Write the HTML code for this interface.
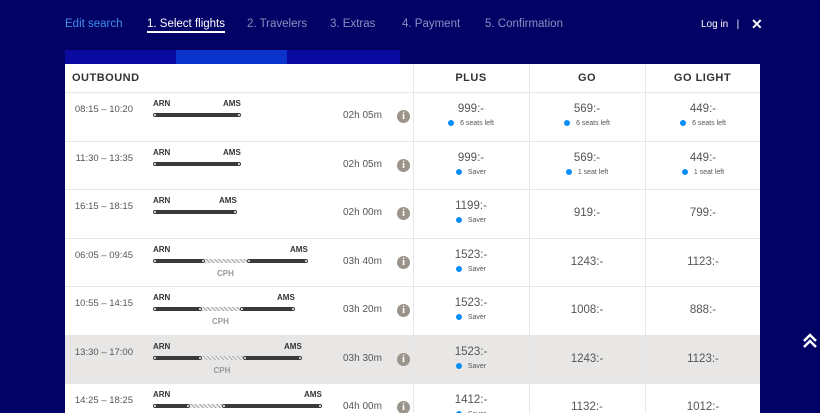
<!DOCTYPE html>
<html><head><meta charset="utf-8"><style>
body{margin:0;width:820px;height:413px;overflow:hidden;background:#020266;font-family:"Liberation Sans",sans-serif;position:relative}
.nav{position:absolute;top:18px;font-size:11.5px;color:#8a8fc0}
.card{position:absolute;left:65px;top:64px;width:695px;height:349px;background:#fff;overflow:hidden}
.row{position:absolute;left:0;width:695px;border-top:1px solid #e6e6e6}
.col{position:absolute;top:0;bottom:0;border-left:1px solid #e6e6e6;z-index:2}
.hd{position:absolute;font-weight:bold;font-size:11px;color:#333;letter-spacing:.5px}
.time{position:absolute;right:627px;white-space:nowrap;text-align:right;font-size:9.5px;color:#555}
.ap{position:absolute;font-size:8px;font-weight:bold;color:#333}
.seg{position:absolute;height:4px;background:#3a3a3a;border-radius:3px;box-sizing:border-box;border:1px solid #3a3a3a}
.seg::before,.seg::after{content:"";position:absolute;top:0;width:2px;height:2px;border-radius:50%;background:#fff}
.seg::before{left:0}.seg::after{right:0}
.hat{position:absolute;height:4px;background:repeating-linear-gradient(45deg,#aaa 0 1px,#eee 1px 3px)}
.cph{position:absolute;font-size:8px;font-weight:bold;color:#999}
.dur{position:absolute;left:278px;font-size:10px;color:#555}
.info{position:absolute;left:332px;width:13px;height:13px;border-radius:50%;background:#9a948a;color:#fff;font-size:10px;font-weight:bold;text-align:center;line-height:13px;font-family:"Liberation Serif",serif}
.price{position:absolute;width:116px;text-align:center;font-size:11.5px;color:#555}
.sub{position:absolute;width:116px;text-align:center;font-size:7px;color:#555}
.dot{display:inline-block;width:6px;height:6px;border-radius:50%;background:#0a8ff5;margin-right:6px;vertical-align:middle}
</style></head><body>
<div class="nav" style="left:65px;color:#3f8fe8">Edit search</div>
<div class="nav" style="left:147px;color:#fff;border-bottom:2px solid #fff;padding-bottom:1px">1. Select flights</div>
<div class="nav" style="left:247px">2. Travelers</div>
<div class="nav" style="left:330px">3. Extras</div>
<div class="nav" style="left:402px">4. Payment</div>
<div class="nav" style="left:485px">5. Confirmation</div>
<div class="nav" style="left:701px;color:#fff;font-size:10px;top:19px">Log in &nbsp;&nbsp;|</div>
<div style="position:absolute;left:751px;top:16px;color:#fff;font-size:14px;font-weight:bold">✕</div>
<div style="position:absolute;left:65px;top:50px;width:335px;height:14px;background:#0a0aa0"></div>
<div style="position:absolute;left:176px;top:50px;width:111px;height:14px;background:#0a33cc"></div>
<svg style="position:absolute;left:802px;top:333px" width="16" height="16"><path d="M2 8 L8 2 L14 8 M2 14 L8 8 L14 14" stroke="#fff" stroke-width="2.5" fill="none"/></svg>
<div class="card" id="card">
<div class="hd" style="left:7px;top:8px">OUTBOUND</div>
<div class="hd" style="left:348px;width:116px;text-align:center;top:8px">PLUS</div>
<div class="hd" style="left:464px;width:116px;text-align:center;top:8px">GO</div>
<div class="hd" style="left:580px;width:115px;text-align:center;top:8px">GO LIGHT</div>
</div>
<script>
const times=["08:15 – 10:20","11:30 – 13:35","16:15 – 18:15","06:05 – 09:45","10:55 – 14:15","13:30 – 17:00","14:25 – 18:25"];
const durs=["02h 05m","02h 05m","02h 00m","03h 40m","03h 20m","03h 30m","04h 00m"];
const segs=[[153,241],[153,241],[153,237],[153,205,247,308],[153,202,240,295],[153,202,243,302],[153,190,222,322]];
const plus=["999:-","999:-","1199:-","1523:-","1523:-","1523:-","1412:-"];
const plusSub=["6 seats left","Saver","Saver","Saver","Saver","Saver","Saver"];
const go=["569:-","569:-","919:-","1243:-","1008:-","1243:-","1132:-"];
const goSub=["6 seats left","1 seat left","","","","",""];
const gl=["449:-","449:-","799:-","1123:-","888:-","1123:-","1012:-"];
const glSub=["6 seats left","1 seat left","","","","",""];
const card=document.getElementById('card');
[348,464,580].forEach(x=>{const c=document.createElement('div');c.className='col';c.style.left=x+'px';


card.appendChild(c);});
const H=48.5;
times.forEach((t,i)=>{
 const r=document.createElement('div');r.className='row';
 r.style.top=(28+i*H)+'px';r.style.height=H+'px';
 if(i===5)r.style.background='#e8e7e5';
 
 
 const s=segs[i].map(v=>v-65);const start=s[0],end=s[s.length-1];
 let h=`<div class="time" style="top:11px">${t}</div>
 <div class="ap" style="left:${start}px;top:6px">ARN</div><div class="ap" style="left:${end-18}px;top:6px">AMS</div>`;
 if(s.length===2)h+=`<div class="seg" style="left:${s[0]}px;width:${s[1]-s[0]}px;top:20px"></div>`;
 else{h+=`<div class="seg" style="left:${s[0]}px;width:${s[1]-s[0]}px;top:20px"></div><div class="hat" style="left:${s[1]}px;width:${s[2]-s[1]}px;top:20px"></div><div class="seg" style="left:${s[2]}px;width:${s[3]-s[2]}px;top:20px"></div><div class="cph" style="left:${(s[1]+s[2])/2-9}px;top:30px">CPH</div>`;}
 h+=`<div class="dur" style="top:17px">${durs[i]}</div><div class="info" style="top:17px">i</div>`;
 [[plus,plusSub,348],[go,goSub,464],[gl,glSub,580]].forEach(([p,sb,x])=>{
  const has=sb[i]!=='';
  h+=`<div class="price" style="left:${x}px;top:${has?10:17}px">${p[i]}</div>`;
  if(has)h+=`<div class="sub" style="left:${x}px;top:27px"><span class="dot"></span>${sb[i]}</div>`;
 });
 r.innerHTML=h;card.appendChild(r);
});
</script>
</body></html>
